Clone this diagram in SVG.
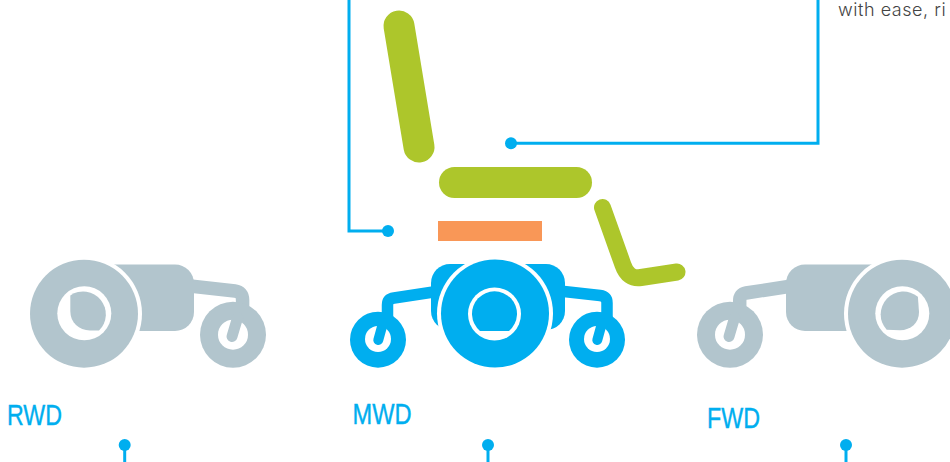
<svg xmlns="http://www.w3.org/2000/svg" width="950" height="462" viewBox="0 0 950 462">
<style>
.gr{fill:#b2c5cd}.bl{fill:#00aeef}.w{fill:#fff}.lime{fill:#adc62b}
.armg{fill:none;stroke:#b2c5cd;stroke-width:13.500}
.armb{fill:none;stroke:#00aeef;stroke-width:11.500}
.tg{fill:none;stroke:#b2c5cd;stroke-width:11;stroke-linecap:round}
.tb{fill:none;stroke:#00aeef;stroke-width:10;stroke-linecap:round}
.lbl{font-family:"Liberation Sans Narrow","Liberation Sans",sans-serif;font-size:30px;fill:#00aeef;stroke:#00aeef;stroke-width:.4px}
.wire{fill:none;stroke:#00aeef;stroke-width:3}
.body{font-family:"Inter","Liberation Sans",sans-serif;font-size:18px;font-weight:300;fill:#444;letter-spacing:.55px}
</style>
<rect width="950" height="462" fill="#fff"/>
<g id="connectors">
<path class="wire" d="M349,0V231H388"/><circle class="bl" cx="388" cy="231" r="6"/>
<path class="wire" d="M818,0V143.300H511"/><circle class="bl" cx="511" cy="143.300" r="6"/>
<path class="wire" d="M124.700,445V462"/><circle class="bl" cx="124.700" cy="445" r="6"/>
<path class="wire" d="M488,445V462"/><circle class="bl" cx="488" cy="445" r="6"/>
<path class="wire" d="M846,445V462"/><circle class="bl" cx="846" cy="445" r="6"/>
</g>
<g id="seat">
<path d="M399,26L419,147" fill="none" stroke="#adc62b" stroke-width="31" stroke-linecap="round"/>
<rect class="lime" x="439" y="167" width="153" height="31" rx="15.500"/>
<path d="M602.500,207.500L623,265Q628,279.500 641,277.500L677,272" fill="none" stroke="#adc62b" stroke-width="17" stroke-linecap="round"/>
<rect x="438" y="221" width="104" height="20" fill="#f99757"/>
</g>
<g id="rwd">
<path class="armg" d="M190,286L235,291Q242.600,292 242.600,300L242.600,315"/>
<rect class="gr" x="60" y="264.500" width="134" height="66.500" rx="19"/>
<circle class="w" cx="84" cy="313.700" r="58"/>
<circle class="gr" cx="84" cy="313.700" r="54"/>
<circle class="gr" cx="233" cy="334.700" r="33"/>
<circle class="w" cx="84.300" cy="313.300" r="27"/>
<path class="gr" d="M70.300,295.400L70.300,311C70.300,323 79,330 90,330.500L99,330.600A22.800,22.800 0 0 0 70.300,295.400Z"/>
<circle class="w" cx="233" cy="334.700" r="15"/>
<path class="tg" d="M237.500,318L232,336.500"/>
<text class="lbl" x="7" y="425" textLength="55" lengthAdjust="spacingAndGlyphs">RWD</text>
</g>
<g id="mwd">
<path class="armb" d="M440,291L394,298Q387.500,299 387.500,305L387.500,318"/>
<path class="armb" d="M555,290.500L600,295.500Q607,296.500 607,303L607,318"/>
<rect class="bl" x="431" y="264" width="134" height="66" rx="19"/>
<circle class="w" cx="495" cy="313.500" r="58"/>
<circle class="bl" cx="495" cy="313.500" r="54"/>
<circle class="bl" cx="378" cy="339.700" r="28"/>
<circle class="bl" cx="597" cy="339.700" r="28"/>
<circle class="w" cx="378" cy="339" r="13"/>
<path class="tb" d="M383,323L378.300,340"/>
<circle class="w" cx="597" cy="339" r="13"/>
<path class="tb" d="M602,323L597.300,340"/>
<circle class="w" cx="494.500" cy="314" r="26.500"/>
<path class="bl" d="M480,331A22.500,22.500 0 1 1 509,331Z"/>
<text class="lbl" x="352.500" y="424.300" textLength="59" lengthAdjust="spacingAndGlyphs">MWD</text>
</g>
<g id="fwd">
<path class="armg" d="M795,285.500L746,293Q739.700,294 739.700,301L739.700,315"/>
<rect class="gr" x="786" y="264.500" width="134" height="66.500" rx="19"/>
<circle class="w" cx="902" cy="313.700" r="58"/>
<circle class="gr" cx="902" cy="313.700" r="54"/>
<circle class="gr" cx="730" cy="334.700" r="33"/>
<circle class="w" cx="902.300" cy="313.300" r="27"/>
<path class="gr" d="M917.900,296.700L919,312C919,323 911,330 900,330.300L886.700,329.800A22.800,22.800 0 0 1 917.900,296.700Z"/>
<circle class="w" cx="730" cy="334.700" r="15"/>
<path class="tg" d="M734.500,318L729,336.500"/>
<text class="lbl" x="707" y="427.700" textLength="53" lengthAdjust="spacingAndGlyphs">FWD</text>
</g>
<text class="body" x="838" y="16">with ease, ri</text>
</svg>
